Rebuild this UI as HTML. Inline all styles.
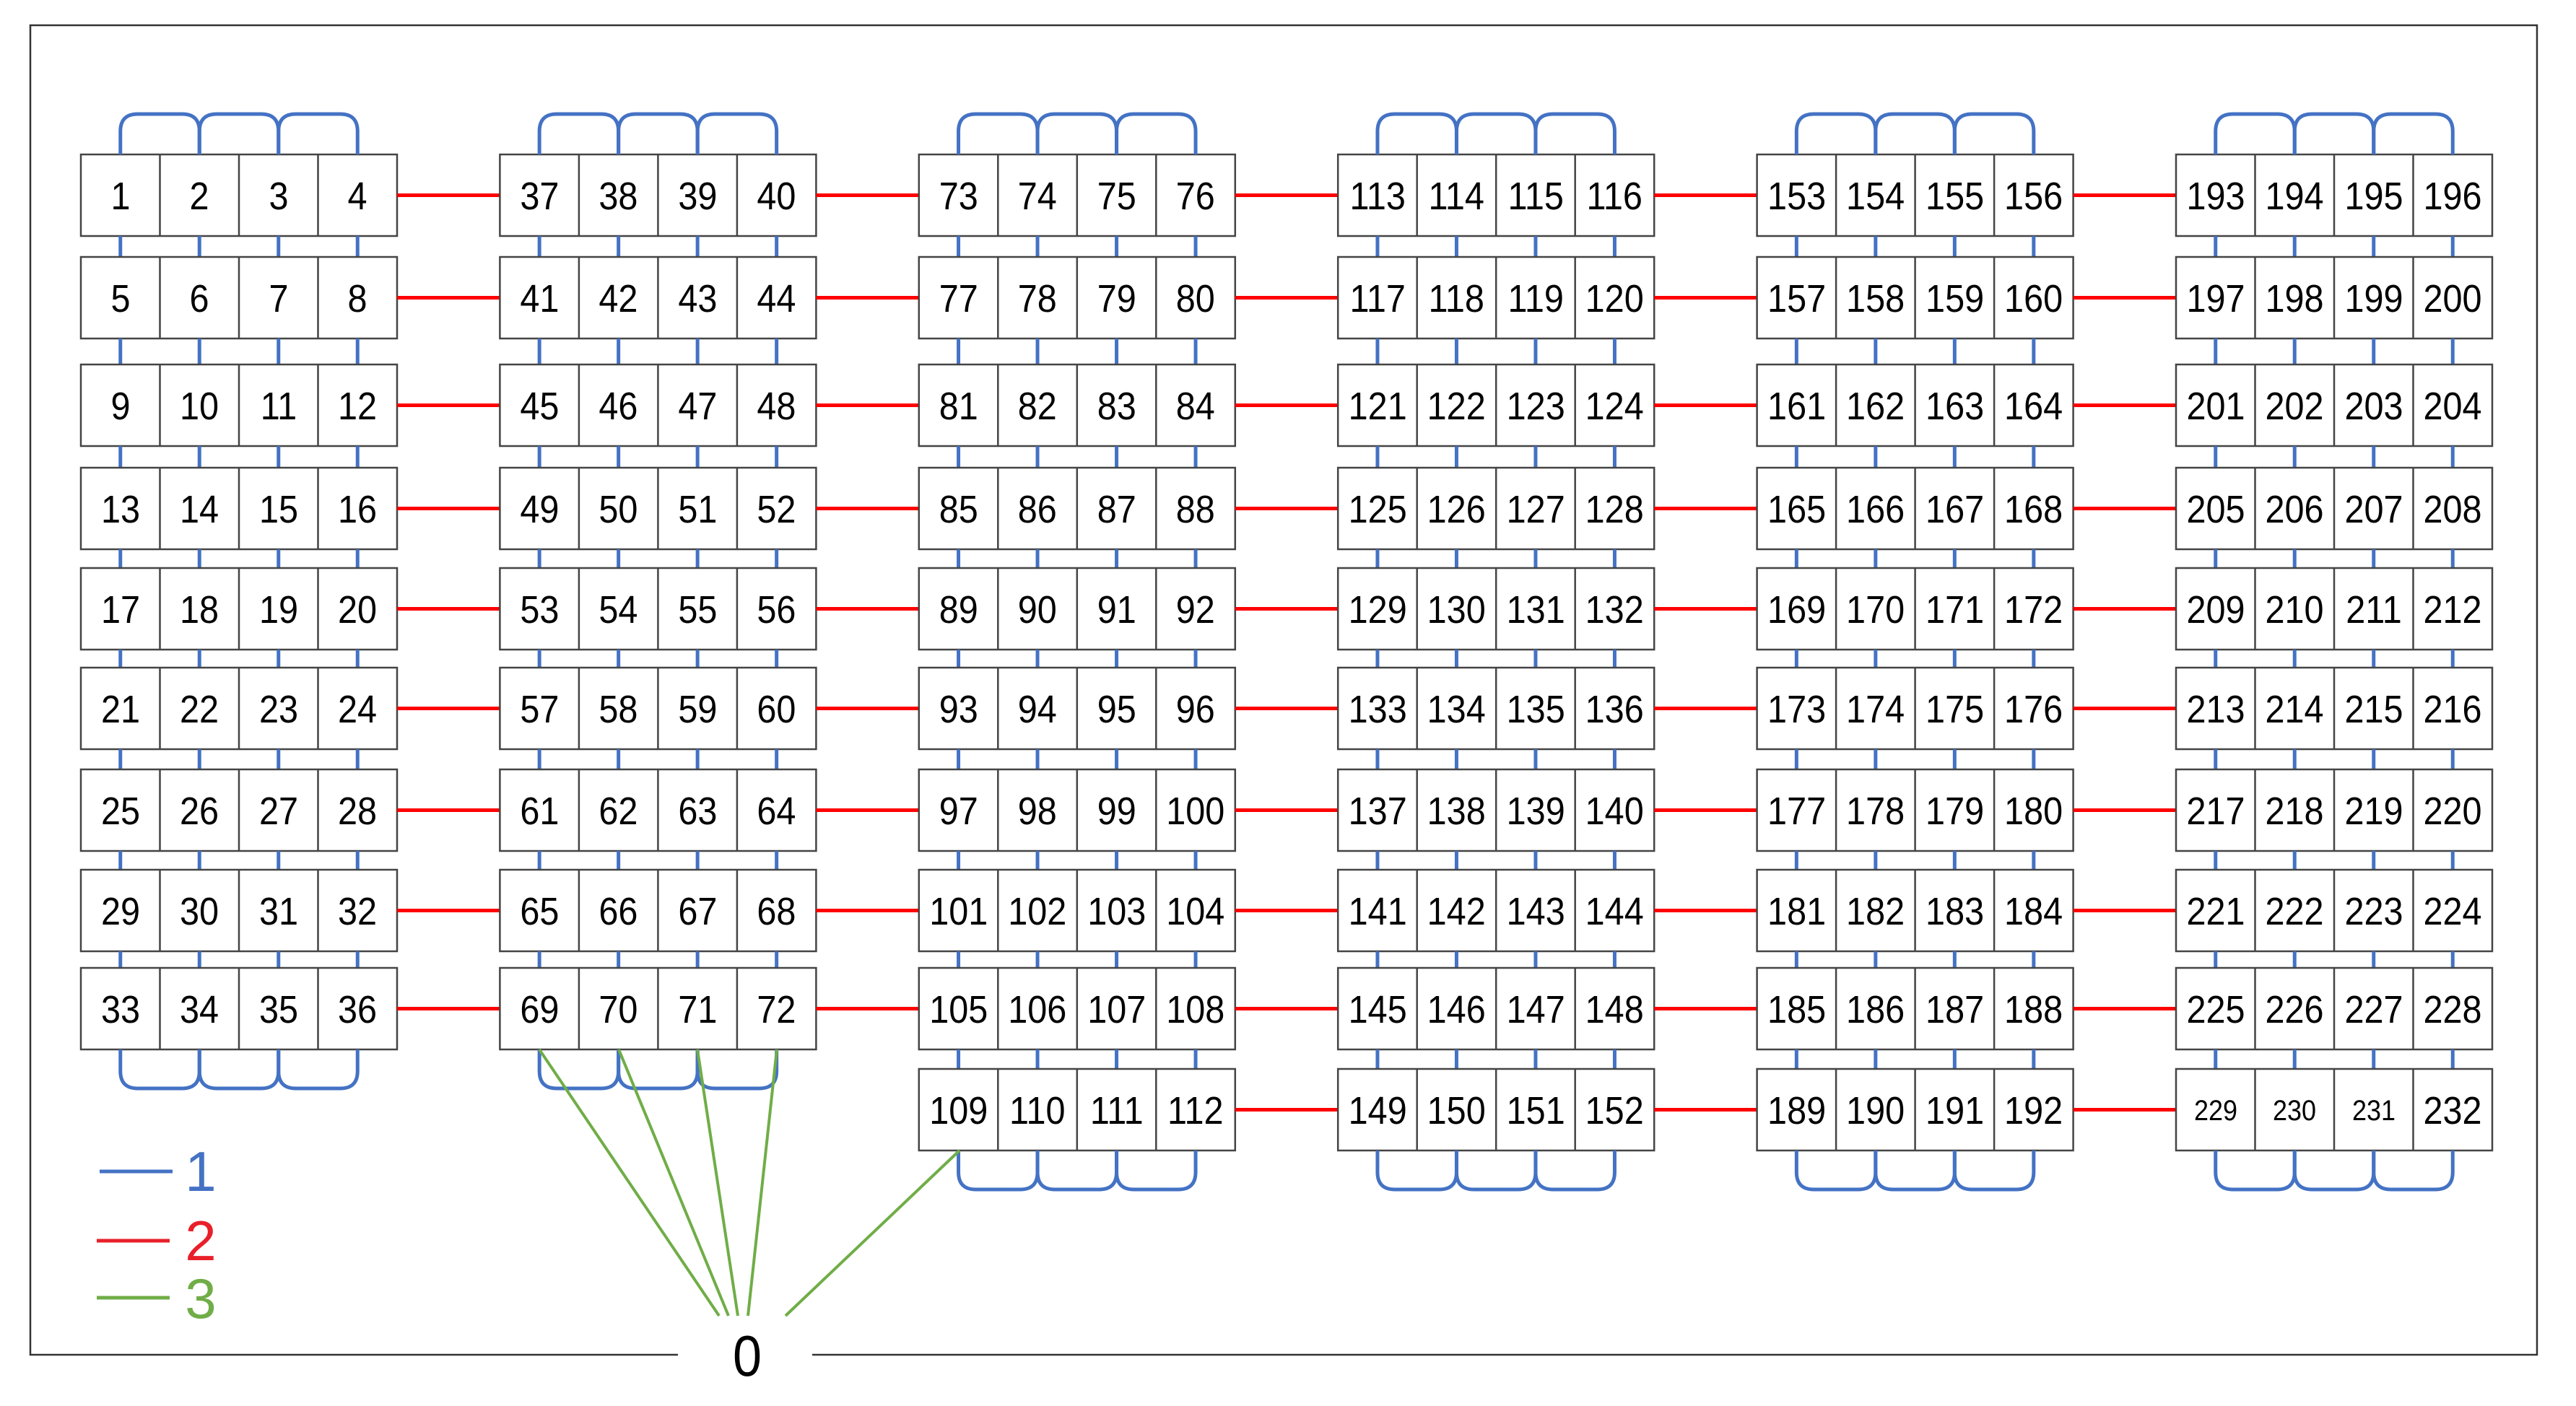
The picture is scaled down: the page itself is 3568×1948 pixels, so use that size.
<!DOCTYPE html>
<html><head><meta charset="utf-8"><style>
html,body{margin:0;padding:0;background:#fff}
svg{display:block}
text{font-family:"Liberation Sans",sans-serif;font-size:54px;text-anchor:middle;fill:#000;transform-box:fill-box;transform-origin:center;transform:scaleX(0.9)}
text.lg{transform:none}
</style></head><body>
<svg id="s" width="3568" height="1948" viewBox="0 0 3568 1948" xmlns="http://www.w3.org/2000/svg">
<path d="M939 1877 H42 V35 H3514 V1877 H1125" fill="none" stroke="#333" stroke-width="2.5"/>
<g id="shapes"></g>
<g stroke="#70AD47" stroke-width="4" fill="none">
<line x1="747" y1="1454" x2="996" y2="1823"/>
<line x1="857" y1="1454" x2="1009" y2="1823"/>
<line x1="966" y1="1454" x2="1022" y2="1823"/>
<line x1="1076" y1="1454" x2="1036" y2="1823"/>
<line x1="1329" y1="1594" x2="1088" y2="1823"/>
</g>
<line x1="138" y1="1623" x2="239" y2="1623" stroke="#4472C4" stroke-width="5"/>
<line x1="134" y1="1719" x2="235" y2="1719" stroke="#E8202A" stroke-width="5"/>
<line x1="134" y1="1798" x2="235" y2="1798" stroke="#70AD47" stroke-width="5"/>
<text class="lg" x="278" y="1650" style="font-size:78px;fill:#4472C4">1</text>
<text class="lg" x="278" y="1746" style="font-size:78px;fill:#E8202A">2</text>
<text class="lg" x="278" y="1826" style="font-size:78px;fill:#70AD47">3</text>
<text x="1035" y="1906" style="font-size:80px">0</text>

<g transform="translate(112,0)">
<text x="55" y="290">1</text><text x="164" y="290">2</text><text x="274" y="290">3</text><text x="383" y="290">4</text>
<text x="55" y="432">5</text><text x="164" y="432">6</text><text x="274" y="432">7</text><text x="383" y="432">8</text>
<text x="55" y="581">9</text><text x="164" y="581">10</text><text x="274" y="581">11</text><text x="383" y="581">12</text>
<text x="55" y="724">13</text><text x="164" y="724">14</text><text x="274" y="724">15</text><text x="383" y="724">16</text>
<text x="55" y="863">17</text><text x="164" y="863">18</text><text x="274" y="863">19</text><text x="383" y="863">20</text>
<text x="55" y="1001">21</text><text x="164" y="1001">22</text><text x="274" y="1001">23</text><text x="383" y="1001">24</text>
<text x="55" y="1142">25</text><text x="164" y="1142">26</text><text x="274" y="1142">27</text><text x="383" y="1142">28</text>
<text x="55" y="1281">29</text><text x="164" y="1281">30</text><text x="274" y="1281">31</text><text x="383" y="1281">32</text>
<text x="55" y="1417">33</text><text x="164" y="1417">34</text><text x="274" y="1417">35</text><text x="383" y="1417">36</text>
</g>
<g transform="translate(692.4,0)">
<text x="55" y="290">37</text><text x="164" y="290">38</text><text x="274" y="290">39</text><text x="383" y="290">40</text>
<text x="55" y="432">41</text><text x="164" y="432">42</text><text x="274" y="432">43</text><text x="383" y="432">44</text>
<text x="55" y="581">45</text><text x="164" y="581">46</text><text x="274" y="581">47</text><text x="383" y="581">48</text>
<text x="55" y="724">49</text><text x="164" y="724">50</text><text x="274" y="724">51</text><text x="383" y="724">52</text>
<text x="55" y="863">53</text><text x="164" y="863">54</text><text x="274" y="863">55</text><text x="383" y="863">56</text>
<text x="55" y="1001">57</text><text x="164" y="1001">58</text><text x="274" y="1001">59</text><text x="383" y="1001">60</text>
<text x="55" y="1142">61</text><text x="164" y="1142">62</text><text x="274" y="1142">63</text><text x="383" y="1142">64</text>
<text x="55" y="1281">65</text><text x="164" y="1281">66</text><text x="274" y="1281">67</text><text x="383" y="1281">68</text>
<text x="55" y="1417">69</text><text x="164" y="1417">70</text><text x="274" y="1417">71</text><text x="383" y="1417">72</text>
</g>
<g transform="translate(1272.8,0)">
<text x="55" y="290">73</text><text x="164" y="290">74</text><text x="274" y="290">75</text><text x="383" y="290">76</text>
<text x="55" y="432">77</text><text x="164" y="432">78</text><text x="274" y="432">79</text><text x="383" y="432">80</text>
<text x="55" y="581">81</text><text x="164" y="581">82</text><text x="274" y="581">83</text><text x="383" y="581">84</text>
<text x="55" y="724">85</text><text x="164" y="724">86</text><text x="274" y="724">87</text><text x="383" y="724">88</text>
<text x="55" y="863">89</text><text x="164" y="863">90</text><text x="274" y="863">91</text><text x="383" y="863">92</text>
<text x="55" y="1001">93</text><text x="164" y="1001">94</text><text x="274" y="1001">95</text><text x="383" y="1001">96</text>
<text x="55" y="1142">97</text><text x="164" y="1142">98</text><text x="274" y="1142">99</text><text x="383" y="1142">100</text>
<text x="55" y="1281">101</text><text x="164" y="1281">102</text><text x="274" y="1281">103</text><text x="383" y="1281">104</text>
<text x="55" y="1417">105</text><text x="164" y="1417">106</text><text x="274" y="1417">107</text><text x="383" y="1417">108</text>
<text x="55" y="1557">109</text><text x="164" y="1557">110</text><text x="274" y="1557">111</text><text x="383" y="1557">112</text>
</g>
<g transform="translate(1853.2,0)">
<text x="55" y="290">113</text><text x="164" y="290">114</text><text x="274" y="290">115</text><text x="383" y="290">116</text>
<text x="55" y="432">117</text><text x="164" y="432">118</text><text x="274" y="432">119</text><text x="383" y="432">120</text>
<text x="55" y="581">121</text><text x="164" y="581">122</text><text x="274" y="581">123</text><text x="383" y="581">124</text>
<text x="55" y="724">125</text><text x="164" y="724">126</text><text x="274" y="724">127</text><text x="383" y="724">128</text>
<text x="55" y="863">129</text><text x="164" y="863">130</text><text x="274" y="863">131</text><text x="383" y="863">132</text>
<text x="55" y="1001">133</text><text x="164" y="1001">134</text><text x="274" y="1001">135</text><text x="383" y="1001">136</text>
<text x="55" y="1142">137</text><text x="164" y="1142">138</text><text x="274" y="1142">139</text><text x="383" y="1142">140</text>
<text x="55" y="1281">141</text><text x="164" y="1281">142</text><text x="274" y="1281">143</text><text x="383" y="1281">144</text>
<text x="55" y="1417">145</text><text x="164" y="1417">146</text><text x="274" y="1417">147</text><text x="383" y="1417">148</text>
<text x="55" y="1557">149</text><text x="164" y="1557">150</text><text x="274" y="1557">151</text><text x="383" y="1557">152</text>
</g>
<g transform="translate(2433.6,0)">
<text x="55" y="290">153</text><text x="164" y="290">154</text><text x="274" y="290">155</text><text x="383" y="290">156</text>
<text x="55" y="432">157</text><text x="164" y="432">158</text><text x="274" y="432">159</text><text x="383" y="432">160</text>
<text x="55" y="581">161</text><text x="164" y="581">162</text><text x="274" y="581">163</text><text x="383" y="581">164</text>
<text x="55" y="724">165</text><text x="164" y="724">166</text><text x="274" y="724">167</text><text x="383" y="724">168</text>
<text x="55" y="863">169</text><text x="164" y="863">170</text><text x="274" y="863">171</text><text x="383" y="863">172</text>
<text x="55" y="1001">173</text><text x="164" y="1001">174</text><text x="274" y="1001">175</text><text x="383" y="1001">176</text>
<text x="55" y="1142">177</text><text x="164" y="1142">178</text><text x="274" y="1142">179</text><text x="383" y="1142">180</text>
<text x="55" y="1281">181</text><text x="164" y="1281">182</text><text x="274" y="1281">183</text><text x="383" y="1281">184</text>
<text x="55" y="1417">185</text><text x="164" y="1417">186</text><text x="274" y="1417">187</text><text x="383" y="1417">188</text>
<text x="55" y="1557">189</text><text x="164" y="1557">190</text><text x="274" y="1557">191</text><text x="383" y="1557">192</text>
</g>
<g transform="translate(3014,0)">
<text x="55" y="290">193</text><text x="164" y="290">194</text><text x="274" y="290">195</text><text x="383" y="290">196</text>
<text x="55" y="432">197</text><text x="164" y="432">198</text><text x="274" y="432">199</text><text x="383" y="432">200</text>
<text x="55" y="581">201</text><text x="164" y="581">202</text><text x="274" y="581">203</text><text x="383" y="581">204</text>
<text x="55" y="724">205</text><text x="164" y="724">206</text><text x="274" y="724">207</text><text x="383" y="724">208</text>
<text x="55" y="863">209</text><text x="164" y="863">210</text><text x="274" y="863">211</text><text x="383" y="863">212</text>
<text x="55" y="1001">213</text><text x="164" y="1001">214</text><text x="274" y="1001">215</text><text x="383" y="1001">216</text>
<text x="55" y="1142">217</text><text x="164" y="1142">218</text><text x="274" y="1142">219</text><text x="383" y="1142">220</text>
<text x="55" y="1281">221</text><text x="164" y="1281">222</text><text x="274" y="1281">223</text><text x="383" y="1281">224</text>
<text x="55" y="1417">225</text><text x="164" y="1417">226</text><text x="274" y="1417">227</text><text x="383" y="1417">228</text>
<text x="55" y="1552" style="font-size:40px">229</text><text x="164" y="1552" style="font-size:40px">230</text><text x="274" y="1552" style="font-size:40px">231</text><text x="383" y="1557">232</text>
</g>
</svg>
<script>
(function(){
var g=document.getElementById("shapes");
var R=[214,356,505,648,787,925,1066,1205,1341,1481],H=113;
var G=[112,692.4,1272.8,1853.2,2433.6,3014],W=438,C=109.5;
var N=[9,9,10,10,10,10];
var out="";
var blue='stroke="#4472C4" stroke-width="5" fill="none"';
for(var k=0;k<6;k++){
 var L=G[k],n=N[k];
 var cx=[L+C/2,L+C*1.5,L+C*2.5,L+C*3.5];
 for(var r=0;r<n;r++){
  var t=R[r];
  out+='<rect x="'+L+'" y="'+t+'" width="'+W+'" height="'+H+'" fill="#fff" stroke="#444" stroke-width="2.5"/>';
  for(var i=1;i<4;i++){var x=L+C*i;out+='<line x1="'+x+'" y1="'+t+'" x2="'+x+'" y2="'+(t+H)+'" stroke="#444" stroke-width="2.5"/>';}
  if(r<n-1){for(var i=0;i<4;i++)out+='<line x1="'+cx[i]+'" y1="'+(t+H)+'" x2="'+cx[i]+'" y2="'+R[r+1]+'" '+blue+'/>';}
  if(k<5 && !(k==1 && r>=9)){
   var cy=t+H/2;
   out+='<line x1="'+(L+W)+'" y1="'+cy+'" x2="'+G[k+1]+'" y2="'+cy+'" stroke="#FF0000" stroke-width="5"/>';
  }
 }
 var top=R[0],ay=158,rr=24;
 for(var i=0;i<3;i++){
  var a=cx[i],b=cx[i+1];
  out+='<path d="M'+a+' '+top+' V'+(ay+rr)+' Q'+a+' '+ay+' '+(a+rr)+' '+ay+' H'+(b-rr)+' Q'+b+' '+ay+' '+b+' '+(ay+rr)+' V'+top+'" '+blue+'/>';
 }
 var bot=R[n-1]+H,by=bot+54;
 for(var i=0;i<3;i++){
  var a=cx[i],b=cx[i+1];
  out+='<path d="M'+a+' '+bot+' V'+(by-rr)+' Q'+a+' '+by+' '+(a+rr)+' '+by+' H'+(b-rr)+' Q'+b+' '+by+' '+b+' '+(by-rr)+' V'+bot+'" '+blue+'/>';
 }
}
g.innerHTML=out;
})();
</script>
</body></html>
